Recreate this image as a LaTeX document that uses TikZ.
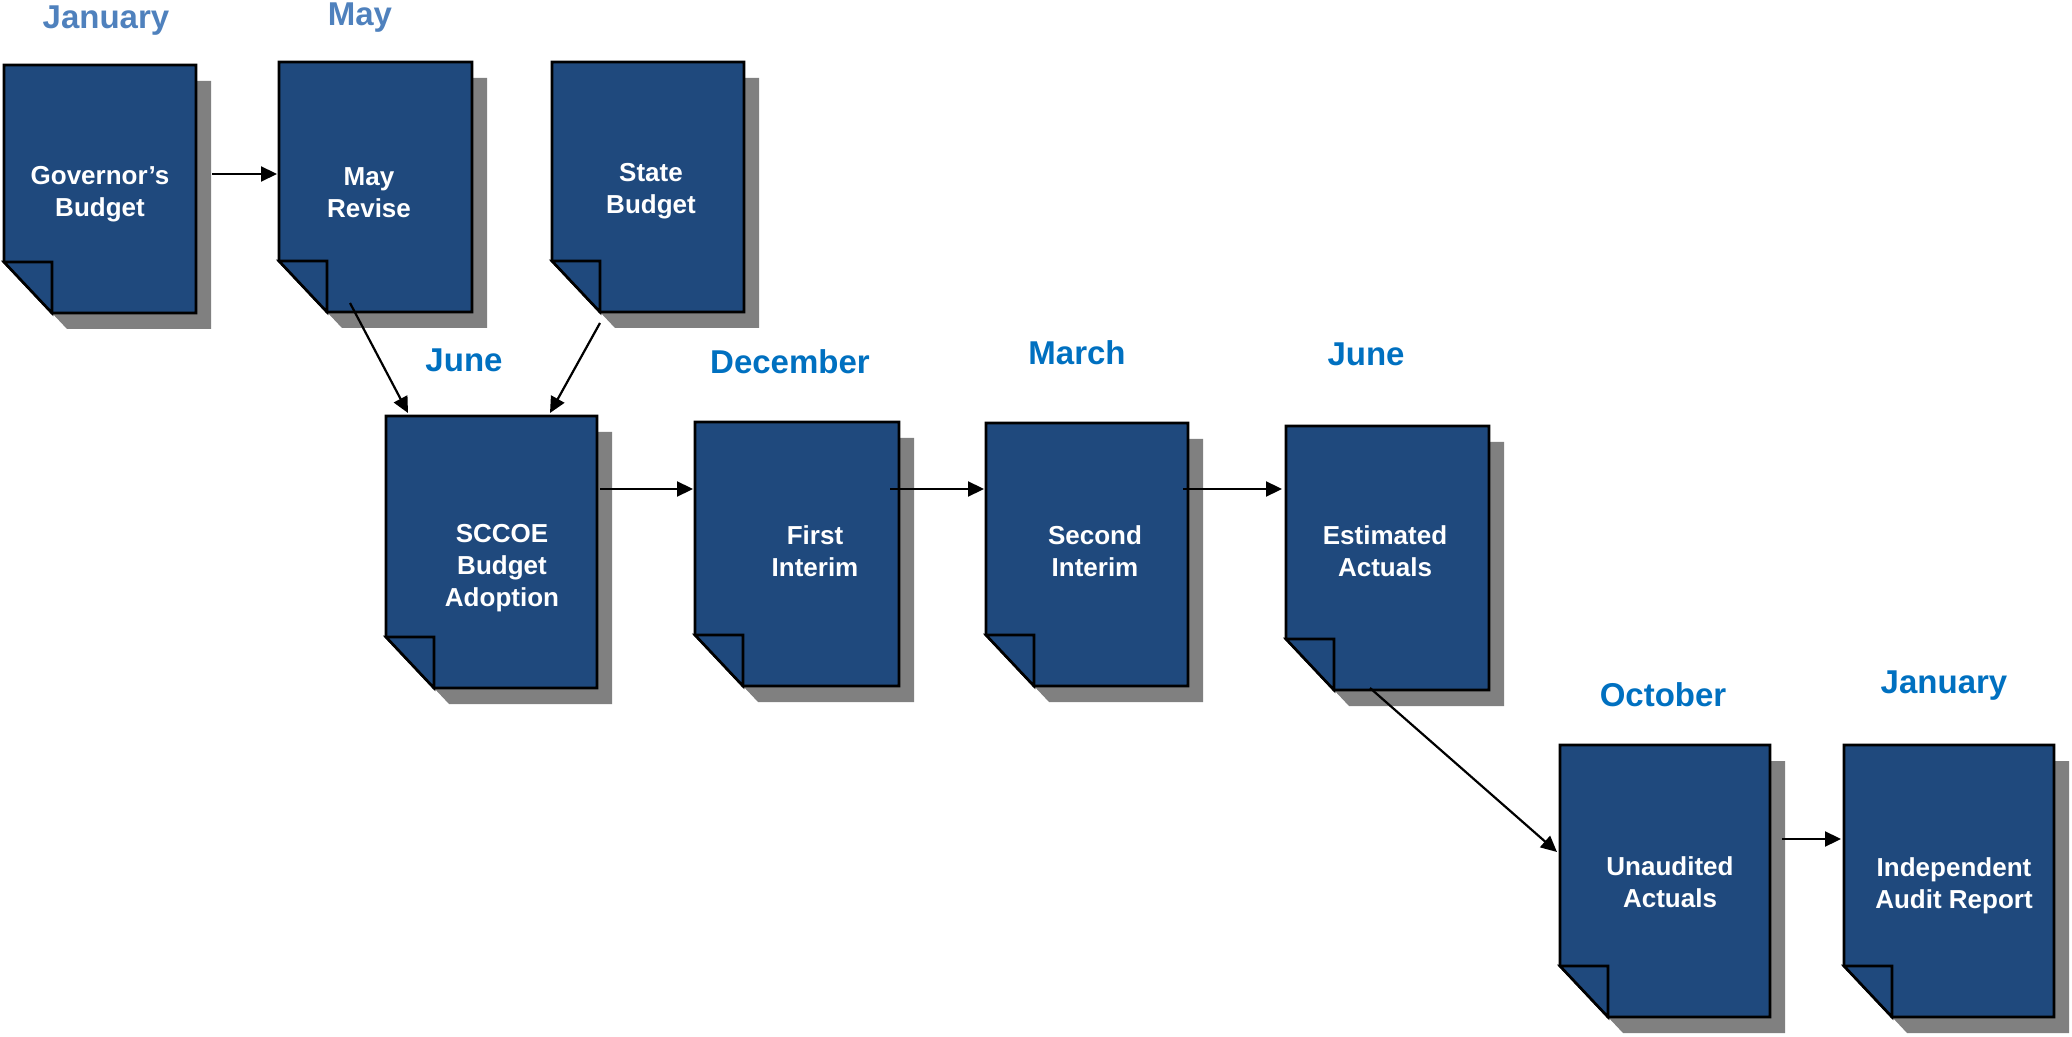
\documentclass[tikz,border=0pt]{standalone}
\usepackage{fontspec}
\setmainfont{Liberation Sans}
\usetikzlibrary{arrows.meta,calc}
\definecolor{pageblue}{RGB}{31,73,125}
\definecolor{shadowgray}{RGB}{128,128,128}
\definecolor{monthA}{RGB}{79,129,189}
\definecolor{monthB}{RGB}{0,112,192}
\tikzset{
  pagefill/.style={fill=pageblue,draw=black,line width=1.3pt,line join=miter},
  shadowfill/.style={fill=shadowgray},
  docbox/.style={rectangle,inner sep=0pt,outer sep=0pt},
  doctext/.style={text=white,font=\fontsize{13}{16}\selectfont\bfseries,align=center,inner sep=0pt},
  monthlbl/.style={font=\fontsize{16.5}{19}\selectfont\bfseries,inner sep=0pt},
  flow/.style={-{Triangle[length=8pt,width=7.5pt]},line width=1.1pt,black}
}
% name, left, top, right, bottom (pixel units)
\newcommand\docpage[5]{%
  \fill[shadowfill] ({#2+15},{#3+16}) -- ({#4+15},{#3+16}) -- ({#4+15},{#5+16})
     -- ({#2+15+48},{#5+16}) -- ({#2+15},{#5+16-51}) -- cycle;
  \filldraw[pagefill] (#2,#3) -- (#4,#3) -- (#4,#5) -- ({#2+48},#5) -- (#2,{#5-51}) -- cycle;
  \filldraw[pagefill] (#2,{#5-51}) -- ({#2+48},{#5-51}) -- ({#2+48},#5) -- cycle;
  \node[docbox,minimum width={(#4-#2)*0.5pt},minimum height={(#5-#3)*0.5pt}] (#1) at ({(#2+#4)/2},{(#3+#5)/2}) {};
}
\begin{document}
\begin{tikzpicture}[x=0.5pt,y=-0.5pt]
\useasboundingbox (0,0) rectangle (2072,1037);

\docpage{d1}{4}{65}{196}{313}
\docpage{d2}{279}{62}{472}{312}
\docpage{d3}{552}{62}{744}{312}
\docpage{d4}{386}{416}{597}{688}
\docpage{d5}{695}{422}{899}{686}
\docpage{d6}{986}{423}{1188}{686}
\docpage{d7}{1286}{426}{1489}{690}
\docpage{d8}{1560}{745}{1770}{1017}
\docpage{d9}{1844}{745}{2054}{1017}

\node[doctext] (t1) at (100,194) {Governor’s\\Budget};
\node[doctext] (t2) at (369,193) {May\\Revise};
\node[doctext] (t3) at (651,191) {State\\Budget};
\node[doctext] (t4) at (502,568) {SCCOE\\Budget\\Adoption};
\node[doctext] (t5) at (815,551) {First\\Interim};
\node[doctext] (t6) at (1095,551) {Second\\Interim};
\node[doctext] (t7) at (1385,551) {Estimated\\Actuals};
\node[doctext] (t8) at (1670,882) {Unaudited\\Actuals};
\node[doctext] (t9) at (1954,886) {Independent\\Audit Report};

\node[monthlbl,text=monthA] (m1) at (106,21) {January};
\node[monthlbl,text=monthA] (m2) at (360,18) {May};
\node[monthlbl,text=monthB] (m3) at (464,360) {June};
\node[monthlbl,text=monthB] (m4) at (790,362) {December};
\node[monthlbl,text=monthB] (m5) at (1077,353) {March};
\node[monthlbl,text=monthB] (m6) at (1366,354) {June};
\node[monthlbl,text=monthB] (m7) at (1663,695) {October};
\node[monthlbl,text=monthB] (m8) at (1944,686) {January};

\draw[flow] ($(d1.north east)+(16,109)$) -- ($(d2.north west)+(-2,112)$);
\draw[flow] ($(d2.south west)+(71,-9)$) -- ($(d4.north west)+(22,-3)$);
\draw[flow] ($(d3.south west)+(48,11)$) -- ($(d4.north east)+(-47,-3)$);
\draw[flow] ($(d4.north east)+(3,73)$) -- ($(d5.north west)+(-2,67)$);
\draw[flow] ($(d5.north east)+(-9,67)$) -- ($(d6.north west)+(-2,66)$);
\draw[flow] ($(d6.north east)+(-5,66)$) -- ($(d7.north west)+(-4,63)$);
\draw[flow] ($(d7.south west)+(84,-2)$) -- ($(d8.north west)+(-3,107)$);
\draw[flow] ($(d8.north east)+(12,94)$) -- ($(d9.north west)+(-3,94)$);
\end{tikzpicture}
\end{document}
